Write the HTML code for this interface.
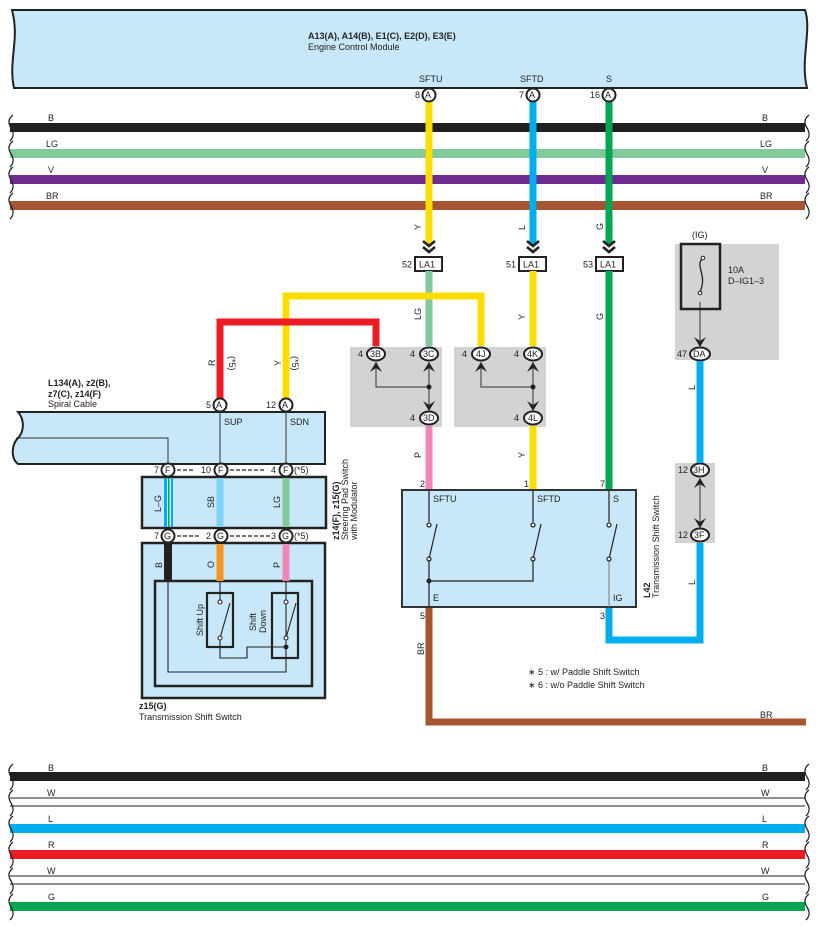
<!DOCTYPE html>
<html><head><meta charset="utf-8"><style>
html,body{margin:0;padding:0;background:#fff;}
svg{display:block;font-family:"Liberation Sans",sans-serif;}
text{font-size:9px;fill:#222;}
.b{font-weight:bold;}
</style></head><body>
<svg width="818" height="928" viewBox="0 0 818 928" xmlns="http://www.w3.org/2000/svg">
<defs>
<symbol id="wv" viewBox="0 0 8 26" overflow="visible">
<path d="M5 0 C0 4,0 8,3 13 C6 18,6 22,2 26" fill="none" stroke="#222" stroke-width="1.3"/>
</symbol>
</defs>

<!-- ECM -->
<path d="M12 10 L805 10 C812 30,800 60,807 88 L14 88 C8 60,20 40,12 10 Z" fill="#c8e8f9" stroke="#222" stroke-width="2"/>
<text x="308" y="39" class="b">A13(A), A14(B), E1(C), E2(D), E3(E)</text>
<text x="308" y="50">Engine Control Module</text>
<text x="419" y="82">SFTU</text><text x="520" y="82">SFTD</text><text x="606" y="82">S</text>

<!-- top buses -->
<g>
<rect x="10" y="123" width="795" height="9" fill="#231f20"/>
<rect x="10" y="149" width="795" height="9" fill="#82c99b"/>
<rect x="10" y="175" width="795" height="9" fill="#6d2b8f"/>
<rect x="10" y="201" width="795" height="9" fill="#a65533"/>
<text x="48" y="121">B</text><text x="762" y="121">B</text>
<text x="46" y="147">LG</text><text x="760" y="147">LG</text>
<text x="48" y="173">V</text><text x="762" y="173">V</text>
<text x="46" y="199">BR</text><text x="760" y="199">BR</text>
<use href="#wv" x="8" y="115" width="8" height="26"/><use href="#wv" x="8" y="141" width="8" height="26"/><use href="#wv" x="8" y="167" width="8" height="26"/><use href="#wv" x="8" y="193" width="8" height="26"/>
<use href="#wv" x="804" y="115" width="8" height="26"/><use href="#wv" x="804" y="141" width="8" height="26"/><use href="#wv" x="804" y="167" width="8" height="26"/><use href="#wv" x="804" y="193" width="8" height="26"/>
</g>

<!-- gray boxes -->
<rect x="350" y="347" width="92" height="80" fill="#d1d3d4"/>
<rect x="454" y="347" width="92" height="80" fill="#d1d3d4"/>
<rect x="675" y="244" width="104" height="116" fill="#d1d3d4"/>
<rect x="675" y="463" width="40" height="80" fill="#d1d3d4"/>

<!-- vertical ECM wires -->
<rect x="425.5" y="100" width="7" height="145" fill="#ffdd00"/>
<rect x="529.5" y="100" width="7" height="145" fill="#00aeef"/>
<rect x="605.5" y="100" width="7" height="145" fill="#00a651"/>
<text transform="translate(421,230) rotate(-90)">Y</text>
<text transform="translate(525,230) rotate(-90)">L</text>
<text transform="translate(603,230) rotate(-90)">G</text>

<!-- chevrons + LA1 -->
<g fill="none" stroke="#222" stroke-width="2.6">
<path d="M423 241 l6 5 l6 -5 M423 247 l6 5 l6 -5"/>
<path d="M527 241 l6 5 l6 -5 M527 247 l6 5 l6 -5"/>
<path d="M603 241 l6 5 l6 -5 M603 247 l6 5 l6 -5"/>
</g>
<g fill="#fff" stroke="#222" stroke-width="2">
<rect x="415" y="257" width="27" height="14"/>
<rect x="519" y="257" width="27" height="14"/>
<rect x="596" y="257" width="27" height="14"/>
</g>
<text x="419" y="267.5">LA1</text><text x="402" y="267.5">52</text>
<text x="523" y="267.5">LA1</text><text x="506" y="267.5">51</text>
<text x="600" y="267.5">LA1</text><text x="583" y="267.5">53</text>

<!-- wires mid -->
<rect x="425.5" y="271" width="7" height="75" fill="#82c99b"/>
<rect x="529.5" y="271" width="7" height="75" fill="#ffdd00"/>
<rect x="605.5" y="271" width="7" height="219" fill="#00a651"/>
<text transform="translate(421,320) rotate(-90)">LG</text>
<text transform="translate(525,320) rotate(-90)">Y</text>
<text transform="translate(603,320) rotate(-90)">G</text>
<path d="M286 400 V296 H481 V346" fill="none" stroke="#ffdd00" stroke-width="7"/>
<path d="M220 400 V322 H376 V346" fill="none" stroke="#ed1c24" stroke-width="7"/>
<text transform="translate(215,366) rotate(-90)">R</text>
<text transform="translate(229,356) rotate(90)">(*5)</text>
<text transform="translate(281,366) rotate(-90)">Y</text>
<text transform="translate(292,356) rotate(90)">(*5)</text>

<!-- junction inner lines -->
<g stroke="#333" stroke-width="1" fill="none">
<path d="M376 362 V387 H429 M429 362 V412"/>
<path d="M481 362 V387 H533 M533 362 V412"/>
<path d="M700 302 V342"/>
<path d="M700 478 V528"/>
</g>
<circle cx="429" cy="387" r="2.5" fill="#222"/><circle cx="533" cy="387" r="2.5" fill="#222"/>
<g fill="#222">
<path d="M370 372 l6 -10 l6 10 l-6 -4z"/><path d="M423 372 l6 -10 l6 10 l-6 -4z"/>
<path d="M475 372 l6 -10 l6 10 l-6 -4z"/><path d="M527 372 l6 -10 l6 10 l-6 -4z"/>
<path d="M423 401 l6 10 l6 -10 l-6 4z"/><path d="M527 401 l6 10 l6 -10 l-6 4z"/>
<path d="M694 337 l6 10 l6 -10 l-6 4z"/>
<path d="M694 488 l6 -10 l6 10 l-6 -4z"/><path d="M694 518 l6 10 l6 -10 l-6 4z"/>
</g>
<!-- oval connectors -->
<g fill="#fff" stroke="#222" stroke-width="2">
<ellipse cx="376" cy="354" rx="9" ry="6.5"/><ellipse cx="429" cy="354" rx="9" ry="6.5"/><ellipse cx="429" cy="418" rx="9" ry="6.5"/>
<ellipse cx="481" cy="354" rx="9" ry="6.5"/><ellipse cx="533" cy="354" rx="9" ry="6.5"/><ellipse cx="533" cy="418" rx="9" ry="6.5"/>
<ellipse cx="700" cy="354" rx="10" ry="6.5"/><ellipse cx="700" cy="470" rx="9" ry="6.5"/><ellipse cx="700" cy="535" rx="9" ry="6.5"/>
</g>
<g>
<text x="370" y="357">3B</text><text x="423" y="357">3C</text><text x="423" y="421">3D</text>
<text x="476" y="357">4J</text><text x="527" y="357">4K</text><text x="528" y="421">4L</text>
<text x="693" y="357">DA</text><text x="693" y="473">3H</text><text x="694" y="538">3F</text>
<text x="358" y="357">4</text><text x="410" y="357">4</text><text x="410" y="421">4</text>
<text x="462" y="357">4</text><text x="514" y="357">4</text><text x="514" y="421">4</text>
<text x="677" y="357">47</text><text x="678" y="473">12</text><text x="678" y="538">12</text>
</g>

<!-- fuse -->
<rect x="681" y="244" width="39" height="65" fill="none" stroke="#222" stroke-width="2.5"/>
<path d="M703 258 C694 266,708 274,700 292" fill="none" stroke="#222" stroke-width="1.3"/>
<circle cx="703" cy="258" r="1.8" fill="#fff" stroke="#222"/><circle cx="700" cy="293" r="1.8" fill="#fff" stroke="#222"/>
<text x="692" y="238">(IG)</text>
<text x="728" y="273">10A</text><text x="728" y="284">D–IG1–3</text>

<!-- lower wires -->
<rect x="425.5" y="426" width="7" height="64" fill="#f287b7"/>
<rect x="529.5" y="426" width="7" height="64" fill="#ffdd00"/>
<text transform="translate(421,458) rotate(-90)">P</text>
<text transform="translate(525,458) rotate(-90)">Y</text>
<path d="M700 361 V463 M700 543 V640 H609 V607" fill="none" stroke="#00aeef" stroke-width="7"/>
<text transform="translate(695,390) rotate(-90)">L</text>
<text transform="translate(695,585) rotate(-90)">L</text>
<path d="M429 607 V722 H806" fill="none" stroke="#a65533" stroke-width="7"/>
<text transform="translate(424,655) rotate(-90)">BR</text>
<text x="760" y="718">BR</text>

<!-- L42 -->
<rect x="402" y="490" width="234" height="117" fill="#c8e8f9" stroke="#333" stroke-width="2"/>
<text x="420" y="487">2</text><text x="524" y="487">1</text><text x="600" y="487">7</text>
<text x="420" y="619">5</text><text x="600" y="619">3</text>
<text x="433" y="502">SFTU</text><text x="537" y="502">SFTD</text><text x="613" y="502">S</text>
<text x="433" y="601">E</text><text x="613" y="601">IG</text>
<g stroke="#222" stroke-width="1.2" fill="none">
<path d="M429 490 V522 M429 559 V607 M429 581 H533 V559 M533 490 V522 M609 490 V522"/>
<path d="M609 559 V607" stroke="#888"/>
<path d="M429 559 L437 524 M533 559 L541 524 M609 559 L617 524"/>
</g>
<g fill="#fff" stroke="#222" stroke-width="1.2">
<circle cx="429" cy="525" r="2"/><circle cx="429" cy="559" r="2"/><circle cx="533" cy="525" r="2"/><circle cx="533" cy="559" r="2"/><circle cx="609" cy="525" r="2"/><circle cx="609" cy="559" r="2"/>
</g>
<circle cx="429" cy="581" r="2.5" fill="#222"/>
<text transform="translate(650,598) rotate(-90)" class="b">L42</text>
<text transform="translate(659,598) rotate(-90)">Transmission Shift Switch</text>
<text x="528" y="675">∗ 5 : w/ Paddle Shift Switch</text>
<text x="528" y="688">∗ 6 : w/o Paddle Shift Switch</text>

<!-- Spiral cable -->
<text x="48" y="386" class="b">L134(A), z2(B),</text>
<text x="48" y="397" class="b">z7(C), z14(F)</text>
<text x="48" y="407">Spiral Cable</text>
<path d="M18 412 H325 V464 H18 C10 458,12 444,18 438 C24 432,25 420,18 412 Z" fill="#c8e8f9" stroke="#222" stroke-width="2"/>
<path d="M16 438 H168 V464 M220 412 V464 M286 412 V464" fill="none" stroke="#333" stroke-width="1"/>
<text x="224" y="425">SUP</text><text x="290" y="425">SDN</text>

<!-- steering pad -->
<rect x="142" y="477" width="184" height="51" fill="#c8e8f9" stroke="#222" stroke-width="2.5"/>
<rect x="164" y="478" width="3" height="49" fill="#00aeef"/><rect x="168" y="478" width="1.5" height="49" fill="#00a651"/><rect x="171" y="478" width="2" height="49" fill="#00aeef"/>
<rect x="216.5" y="478" width="7" height="49" fill="#7fd3f7"/>
<rect x="282.5" y="478" width="7" height="49" fill="#82c99b"/>
<text transform="translate(161,512) rotate(-90)">L–G</text>
<text transform="translate(214,508) rotate(-90)">SB</text>
<text transform="translate(280,508) rotate(-90)">LG</text>
<text transform="translate(339,540) rotate(-90)" class="b">z14(F), z15(G)</text>
<text transform="translate(348,540) rotate(-90)">Steering Pad Switch</text>
<text transform="translate(357,540) rotate(-90)">with Modulator</text>

<!-- trans shift switch -->
<rect x="142" y="543" width="183" height="155" fill="#c8e8f9" stroke="#222" stroke-width="2.5"/>
<rect x="155" y="581" width="157" height="105" fill="#c8e8f9" stroke="#222" stroke-width="2.5"/>
<rect x="164" y="544" width="8" height="37" fill="#231f20"/>
<rect x="216.5" y="544" width="7" height="37" fill="#f7941d"/>
<rect x="282.5" y="544" width="7" height="37" fill="#f287b7"/>
<text transform="translate(162,568) rotate(-90)">B</text>
<text transform="translate(214,568) rotate(-90)">O</text>
<text transform="translate(280,568) rotate(-90)">P</text>
<rect x="207" y="593" width="26" height="54" fill="none" stroke="#222" stroke-width="2.2"/>
<rect x="272" y="593" width="26" height="65" fill="none" stroke="#222" stroke-width="2.2"/>
<g stroke="#222" stroke-width="1.1" fill="none">
<path d="M168 581 V672 H286 V598 M220 581 V600 M286 581 V600 M220 638 V658 H247 V647 H286"/>
<path d="M220 638 L230 603 M286 638 L296 603"/>
</g>
<g fill="#fff" stroke="#222" stroke-width="1.1"><circle cx="220" cy="602" r="2"/><circle cx="220" cy="638" r="2"/><circle cx="286" cy="602" r="2"/><circle cx="286" cy="638" r="2"/></g>
<circle cx="286" cy="647" r="2.5" fill="#222"/>
<text transform="translate(203,636) rotate(-90)">Shift Up</text>
<text transform="translate(256,631) rotate(-90)">Shift</text>
<text transform="translate(266,633) rotate(-90)">Down</text>
<text x="139" y="709" class="b">z15(G)</text>
<text x="139" y="720">Transmission Shift Switch</text>

<!-- F / G rows -->
<g stroke="#222" stroke-width="1.2" stroke-dasharray="4,2"><path d="M177 470 H195 M230 470 H264 M177 536 H200 M230 536 H270"/></g>
<g fill="#fff" stroke="#222" stroke-width="2">
<circle cx="168" cy="470" r="6.5"/><circle cx="221" cy="470" r="6.5"/><circle cx="286" cy="470" r="6.5"/>
<circle cx="168" cy="536" r="6.5"/><circle cx="221" cy="536" r="6.5"/><circle cx="286" cy="536" r="6.5"/>
<circle cx="220" cy="405" r="6.5"/><circle cx="286" cy="405" r="6.5"/>
<circle cx="429" cy="95" r="6.5"/><circle cx="533" cy="95" r="6.5"/><circle cx="609" cy="95" r="6.5"/>
</g>
<g>
<text x="165" y="473">F</text><text x="218" y="473">F</text><text x="283" y="473">F</text>
<text x="164" y="539">G</text><text x="217" y="539">G</text><text x="282" y="539">G</text>
<text x="216" y="408">A</text><text x="282" y="408">A</text>
<text x="425" y="98">A</text><text x="529" y="98">A</text><text x="605" y="98">A</text>
<text x="154" y="473">7</text><text x="201" y="473">10</text><text x="271" y="473">4</text><text x="294" y="473">(*5)</text>
<text x="154" y="539">7</text><text x="206" y="539">2</text><text x="271" y="539">3</text><text x="294" y="539">(*5)</text>
<text x="206" y="408">5</text><text x="266" y="408">12</text>
<text x="415" y="98">8</text><text x="519" y="98">7</text><text x="590" y="98">16</text>
</g>

<!-- bottom buses -->
<rect x="10" y="772" width="795" height="9" fill="#231f20"/>
<path d="M10 798 H805 M10 806 H805" stroke="#222" stroke-width="1"/>
<rect x="10" y="824" width="795" height="9" fill="#00aeef"/>
<rect x="10" y="850" width="795" height="9" fill="#ed1c24"/>
<path d="M10 876 H805 M10 884 H805" stroke="#222" stroke-width="1"/>
<rect x="10" y="902" width="795" height="9" fill="#00a651"/>
<text x="48" y="771">B</text><text x="762" y="771">B</text>
<text x="47" y="796">W</text><text x="761" y="796">W</text>
<text x="48" y="822">L</text><text x="762" y="822">L</text>
<text x="48" y="848">R</text><text x="762" y="848">R</text>
<text x="47" y="874">W</text><text x="761" y="874">W</text>
<text x="48" y="900">G</text><text x="762" y="900">G</text>
<use href="#wv" x="8" y="764" width="8" height="26"/><use href="#wv" x="8" y="790" width="8" height="26"/><use href="#wv" x="8" y="816" width="8" height="26"/><use href="#wv" x="8" y="842" width="8" height="26"/><use href="#wv" x="8" y="868" width="8" height="26"/><use href="#wv" x="8" y="894" width="8" height="26"/>
<use href="#wv" x="804" y="764" width="8" height="26"/><use href="#wv" x="804" y="790" width="8" height="26"/><use href="#wv" x="804" y="816" width="8" height="26"/><use href="#wv" x="804" y="842" width="8" height="26"/><use href="#wv" x="804" y="868" width="8" height="26"/><use href="#wv" x="804" y="894" width="8" height="26"/>
</svg>
</body></html>
